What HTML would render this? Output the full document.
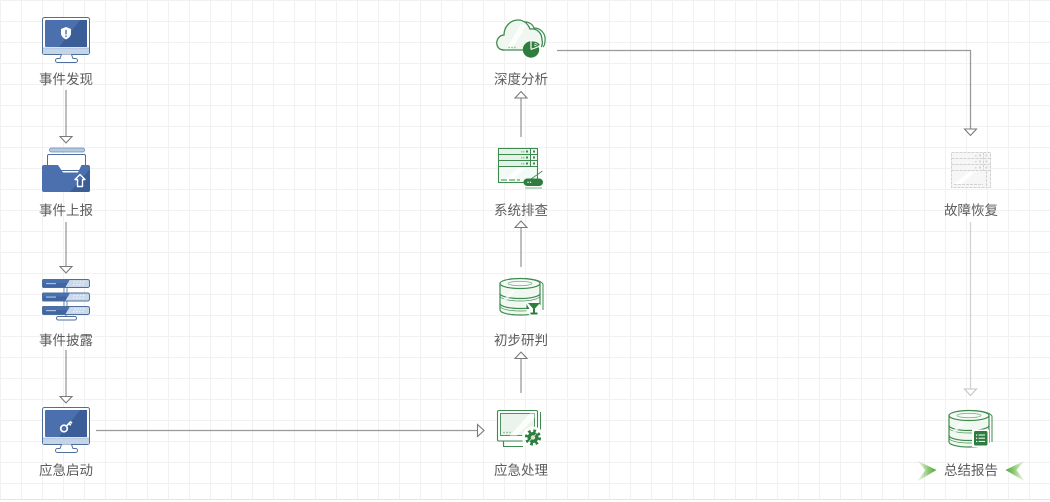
<!DOCTYPE html>
<html><head><meta charset="utf-8"><style>
html,body{margin:0;padding:0;background:#fff;}
svg{display:block;}
text{font-family:"Liberation Sans","Noto Sans CJK SC",sans-serif;font-size:13.5px;fill:#5c5c5c;text-anchor:middle;}
</style></head><body>
<svg width="1050" height="502" viewBox="0 0 1050 502" xmlns="http://www.w3.org/2000/svg">
<defs>
<pattern id="grid" width="21" height="21" patternUnits="userSpaceOnUse">
<path d="M0.5,0 V21 M0,0.5 H21" stroke="#f1f1f1" stroke-width="1" fill="none"/>
</pattern>
<clipPath id="barclip"><rect x="0" y="0" width="48" height="9" rx="2"/></clipPath>
<g id="bar">
<rect width="48" height="9" rx="2" fill="#c9d8ea"/>
<polygon points="0,0 28,0 23,9 0,9" fill="#3f65a2" clip-path="url(#barclip)"/>
<polygon points="0,0 28,0 26,4 0,4" fill="#4a71ad" clip-path="url(#barclip)"/>
<rect x="4" y="4" width="10" height="1.2" fill="#a8bedb"/>
<g fill="#eef3f9"><rect x="32" y="2.5" width="1.5" height="1.2"/><rect x="35" y="2.5" width="1.5" height="1.2"/><rect x="38" y="2.5" width="1.5" height="1.2"/><rect x="41" y="2.5" width="1.5" height="1.2"/>
<rect x="31" y="5" width="1.5" height="1.2"/><rect x="34" y="5" width="1.5" height="1.2"/><rect x="37" y="5" width="1.5" height="1.2"/><rect x="40" y="5" width="1.5" height="1.2"/></g>
<rect x="0.5" y="0.5" width="47" height="8" rx="2" fill="none" stroke="#4d6f9e" stroke-width="1"/>
</g>
<g id="monitor">
<rect x="42.5" y="17.5" width="47" height="37" rx="2" fill="#fff" stroke="#4d6f9e" stroke-width="1"/>
<rect x="43" y="48" width="46" height="6" fill="#c5d5e8"/>
<line x1="43" y1="48" x2="89" y2="48" stroke="#9fb5d2" stroke-width="0.8"/>
<rect x="45" y="20" width="42" height="27" rx="1" fill="#4b70ad"/>
<polygon points="59,47 80,20 87,20 87,47" fill="#3b5e99"/>
<path d="M61.5,54.5 L60,58.5 H57.5 a2,2 0 0 0 0,4 H75.5 a2,2 0 0 0 0,-4 H73 L71.5,54.5" fill="#fff" stroke="#4d6f9e" stroke-width="1"/>
</g>
<g id="db">
<path d="M525,278.6 C535,279 541,281 543,284 V310" fill="none" stroke="#3d8b4e" stroke-width="1"/>
<path d="M500,283.5 V310 A20,5 0 0 0 540,310 V283.5" fill="#f1f8f2" stroke="#3d8b4e" stroke-width="1.2"/>
<ellipse cx="520" cy="283.5" rx="20" ry="5" fill="#f6fbf7" stroke="#3d8b4e" stroke-width="1.2"/>
<ellipse cx="520" cy="283.5" rx="12" ry="2.2" fill="none" stroke="#7fb68a" stroke-width="0.8"/>
<path d="M500,293.5 A20,5 0 0 0 540,293.5 M500,303.5 A20,5 0 0 0 540,303.5" fill="none" stroke="#3d8b4e" stroke-width="1.2"/>
<path d="M500,296 A20,5 0 0 0 540,296 M500,306 A20,5 0 0 0 540,306" fill="none" stroke="#3d8b4e" stroke-width="0.7"/>
<polygon points="503,300 512,290 516,290 507,300" fill="#ffffff" opacity="0.7"/>
</g>
<linearGradient id="chevL" x1="0" y1="0" x2="1" y2="0">
<stop offset="0" stop-color="#8cc96a" stop-opacity="0.1"/><stop offset="0.6" stop-color="#6cb84a" stop-opacity="0.8"/><stop offset="1" stop-color="#4ea532"/>
</linearGradient>
<linearGradient id="chevR" x1="1" y1="0" x2="0" y2="0">
<stop offset="0" stop-color="#8cc96a" stop-opacity="0.1"/><stop offset="0.6" stop-color="#6cb84a" stop-opacity="0.8"/><stop offset="1" stop-color="#4ea532"/>
</linearGradient>
</defs>

<rect x="0" y="0" width="1050" height="502" fill="#fff"/>
<rect x="0" y="0" width="1050" height="499" fill="url(#grid)"/>
<line x1="0" y1="499.5" x2="1050" y2="499.5" stroke="#e3e3ec" stroke-width="1"/>

<!-- connectors -->
<g stroke="#9a9a9a" stroke-width="1.3" fill="none">
<line x1="66" y1="90" x2="66" y2="136"/>
<line x1="66" y1="222" x2="66" y2="266"/>
<line x1="66" y1="350" x2="66" y2="396"/>
<line x1="96" y1="430.5" x2="477" y2="430.5"/>
<line x1="521" y1="393" x2="521" y2="359"/>
<line x1="521" y1="267" x2="521" y2="228"/>
<line x1="521" y1="137" x2="521" y2="98"/>
<polyline points="557,50.5 970.5,50.5 970.5,129"/>
</g>
<line x1="970.5" y1="222" x2="970.5" y2="389" stroke="#d2d2d2" stroke-width="1.3"/>
<g fill="#fff" stroke="#7a7a7a" stroke-width="1.1" stroke-linejoin="miter">
<polygon points="60,136.5 72,136.5 66,143"/>
<polygon points="60,266.5 72,266.5 66,273"/>
<polygon points="60,396.5 72,396.5 66,403"/>
<polygon points="477.5,424.5 477.5,436.5 484,430.5"/>
<polygon points="515,358.5 527,358.5 521,352"/>
<polygon points="515,227.5 527,227.5 521,221"/>
<polygon points="515,98 527,98 521,91.5"/>
<polygon points="964.5,129 976.5,129 970.5,135.5"/>
</g>
<polygon points="964.5,389 976.5,389 970.5,395.5" fill="#fff" stroke="#c4c4c4" stroke-width="1.1"/>

<!-- 事件发现 monitor -->
<use href="#monitor"/>
<path d="M66,27 L71,29 V33 C71,36 69,38 66,39.5 C63,38 61,36 61,33 V29 Z" fill="#fff"/>
<rect x="65.3" y="29.8" width="1.4" height="4.6" fill="#4b70ad"/>
<circle cx="66" cy="36.2" r="0.85" fill="#4b70ad"/>

<!-- 事件上报 folder -->
<rect x="49.5" y="148" width="35" height="4" rx="2" fill="#b7c9e0" stroke="#6d8bb5" stroke-width="0.8"/>
<rect x="47.5" y="154.5" width="38" height="16" rx="1.5" fill="#fff" stroke="#4d6f9e" stroke-width="1"/>
<path d="M44,165 H58 L63,172.5 H78 L81.5,165 H88 a2,2 0 0 1 2,2 V190 a2,2 0 0 1 -2,2 H44 a2,2 0 0 1 -2,-2 V167 a2,2 0 0 1 2,-2 Z" fill="#4b70ad"/>
<path d="M70,192 L90,169 V190 a2,2 0 0 1 -2,2 Z" fill="#3b5e99"/>
<path d="M80,174.5 L85,179.5 H82.5 V186.5 H77.5 V179.5 H75 Z" fill="none" stroke="#fff" stroke-width="1.4" stroke-linejoin="round"/>

<!-- 事件披露 servers -->
<rect x="64" y="287" width="3" height="20" fill="#fff" stroke="#4d6f9e" stroke-width="0.8"/>
<line x1="66" y1="314" x2="66" y2="317" stroke="#4d6f9e" stroke-width="1"/>
<use href="#bar" transform="translate(42,279)"/>
<use href="#bar" transform="translate(42,292.5)"/>
<use href="#bar" transform="translate(42,306)"/>
<rect x="56.5" y="316.5" width="20" height="3.5" rx="1.75" fill="#fff" stroke="#4d6f9e" stroke-width="1"/>

<!-- 应急启动 monitor -->
<use href="#monitor" transform="translate(0,390)"/>
<circle cx="64" cy="428.5" r="3.3" fill="none" stroke="#fff" stroke-width="1.7"/>
<path d="M66.3,426.2 L71,421.5 M69,423.5 L70.8,425.3 M70.5,421.8 L72,423.3" stroke="#fff" stroke-width="1.6" fill="none"/>

<!-- 深度分析 cloud -->
<path d="M523,22 C529,21 533,25 534,28 C541,28 546,34 545,41 C545,44 544,46 543,47" fill="none" stroke="#3d8b4e" stroke-width="1.2"/>
<path d="M504,50 C498,50 496,45 497,41 C498,37 501,35 504,35 C504,26 511,20 518,20 C524,20 528,24 530,29 C537,28 542,33 542,40 C543,43 542,46 541,47 L530,50 Z" fill="#eff7f0" stroke="none"/>
<path d="M504,50 C498,50 496,45 497,41 C498,37 501,35 504,35 C504,26 511,20 518,20 C524,20 528,24 530,29 C537,28 542,33 542,40 C543,43 542,46 541,47" fill="none" stroke="#3d8b4e" stroke-width="1.3"/>
<polygon points="506,49 521,24 526,26 512,49" fill="#fff" opacity="0.8"/>
<line x1="503" y1="50" x2="523" y2="50" stroke="#3d8b4e" stroke-width="1.3"/>
<g fill="#8dbf96"><circle cx="509" cy="47.5" r="0.9"/><circle cx="512" cy="47.5" r="0.9"/><circle cx="515" cy="47.5" r="0.9"/></g>
<circle cx="532" cy="49" r="9.2" fill="#fff"/>
<circle cx="531" cy="49.5" r="8.2" fill="#2e7d3f"/>
<path d="M531,49.5 V41 M531,49.5 L539,46.5" stroke="#fff" stroke-width="1.2"/>
<path d="M533,41.5 A8,8 0 0 1 540,45 L533,47.5 Z" fill="#2e7d3f"/>
<path d="M534.5,43 L537.5,44.5 M534,45 L536.5,46" stroke="#fff" stroke-width="0.7"/>

<!-- 系统排查 server -->
<rect x="498.5" y="148.5" width="39" height="34" fill="#f3f9f4" stroke="#3d8b4e" stroke-width="1.1"/>
<rect x="499" y="149" width="31" height="17" fill="#e6f2e8"/>
<polygon points="502,182 518,168 526,168 510,182" fill="#fff" opacity="0.9"/>
<g stroke="#3d8b4e" stroke-width="1" fill="none">
<line x1="498.5" y1="154.5" x2="537.5" y2="154.5"/>
<line x1="498.5" y1="160.5" x2="537.5" y2="160.5"/>
<line x1="498.5" y1="166.5" x2="537.5" y2="166.5"/>
<line x1="530.5" y1="148.5" x2="530.5" y2="166.5"/>
</g>
<g fill="#3d8b4e">
<rect x="526" y="150.5" width="2" height="2"/><rect x="533" y="150.5" width="2" height="2"/>
<rect x="526" y="156.5" width="2" height="2"/><rect x="533" y="156.5" width="2" height="2"/>
<rect x="526" y="162.5" width="2" height="2"/><rect x="533" y="162.5" width="2" height="2"/>
</g>
<g fill="#9cc8a4">
<rect x="521" y="151" width="1.5" height="1.5"/><rect x="523" y="151" width="1.5" height="1.5"/>
<rect x="521" y="157" width="1.5" height="1.5"/><rect x="523" y="157" width="1.5" height="1.5"/>
<rect x="521" y="163" width="1.5" height="1.5"/><rect x="523" y="163" width="1.5" height="1.5"/>
</g>
<line x1="501" y1="180" x2="520" y2="180" stroke="#3d8b4e" stroke-width="1.1" stroke-dasharray="6 2"/>
<line x1="531" y1="179" x2="542.5" y2="171" stroke="#3d8b4e" stroke-width="0.8"/>
<rect x="523.5" y="178.5" width="19.5" height="7.5" rx="3.7" fill="#2e7d3f"/>
<line x1="525" y1="188" x2="542" y2="188" stroke="#7fb68a" stroke-width="1"/>
<g fill="#fff"><circle cx="528" cy="182.3" r="0.7"/><circle cx="530.5" cy="182.3" r="0.7"/></g>

<!-- 初步研判 db -->
<use href="#db"/>
<circle cx="534" cy="309" r="7.5" fill="#fff"/>
<path d="M528,303 H540 L535,308.5 V312.5 H537.5 V314.5 H530.5 V312.5 H533 V308.5 Z" fill="#2e7d3f"/>
<path d="M526.5,304 L529.5,309 L526.5,309 Z" fill="#2e7d3f"/>

<!-- 应急处理 monitor green -->
<line x1="540.5" y1="412" x2="540.5" y2="441" stroke="#3d8b4e" stroke-width="1"/>
<rect x="497.5" y="410.5" width="40" height="30.5" rx="1.5" fill="#fff" stroke="#3d8b4e" stroke-width="1.1"/>
<rect x="500.5" y="413.5" width="34" height="22" fill="#eaf4ec" stroke="#3d8b4e" stroke-width="0.9"/>
<polygon points="510,435.5 530,413.5 534.5,413.5 534.5,418 517,435.5" fill="#fff" opacity="0.85"/>
<g fill="#8dbf96"><circle cx="504" cy="432.5" r="0.9"/><circle cx="507" cy="432.5" r="0.9"/><circle cx="510" cy="432.5" r="0.9"/></g>
<path d="M503.5,441 V446.5 H523" fill="none" stroke="#3d8b4e" stroke-width="1.1"/>
<circle cx="533" cy="437.5" r="11" fill="#fff"/>
<circle cx="533" cy="437.5" r="5.5" fill="#2e7d3f"/>
<circle cx="533" cy="437.5" r="6.6" fill="none" stroke="#2e7d3f" stroke-width="3" stroke-dasharray="2.6 2.6"/>
<circle cx="533" cy="437.5" r="2.2" fill="#cfe6d3"/>
<line x1="529" y1="441.5" x2="536" y2="434" stroke="#cfe6d3" stroke-width="0.8"/>

<!-- 故障恢复 faded server -->
<g stroke="#d2d2d2" stroke-width="1" fill="none" stroke-dasharray="3 1">
<rect x="951.5" y="152.5" width="39" height="35" fill="#f6f6f6"/>
<line x1="951.5" y1="158.5" x2="990.5" y2="158.5"/>
<line x1="951.5" y1="164.5" x2="990.5" y2="164.5"/>
<line x1="951.5" y1="170.5" x2="990.5" y2="170.5"/>
<line x1="983.5" y1="152.5" x2="983.5" y2="170.5"/>
<line x1="954" y1="184.5" x2="983" y2="184.5"/>
<line x1="986.5" y1="171" x2="986.5" y2="187"/>
</g>
<polygon points="954,184 969,172 975,172 961,184" fill="#fff" opacity="0.9"/>
<g fill="#d6d6d6">
<rect x="979" y="154.5" width="2" height="2"/><rect x="985.5" y="154.5" width="2" height="2"/>
<rect x="979" y="160.5" width="2" height="2"/><rect x="985.5" y="160.5" width="2" height="2"/>
<rect x="979" y="166.5" width="2" height="2"/><rect x="985.5" y="166.5" width="2" height="2"/>
<rect x="975" y="155" width="1.5" height="1.5"/><rect x="975" y="161" width="1.5" height="1.5"/><rect x="975" y="167" width="1.5" height="1.5"/>
</g>

<!-- 总结报告 db -->
<use href="#db" transform="translate(449,132)"/>
<rect x="972" y="429.5" width="17" height="17.5" fill="#fff"/>
<rect x="974" y="431" width="13.5" height="14.5" rx="1.5" fill="#2e7d3f"/>
<g stroke="#fff" stroke-width="1"><line x1="978.5" y1="435" x2="985" y2="435"/><line x1="978.5" y1="438.2" x2="985" y2="438.2"/><line x1="978.5" y1="441.4" x2="985" y2="441.4"/></g>
<g fill="#fff"><rect x="976" y="434.5" width="1.2" height="1.2"/><rect x="976" y="437.7" width="1.2" height="1.2"/><rect x="976" y="440.9" width="1.2" height="1.2"/></g>

<!-- chevrons -->
<polygon points="917,460.5 936.5,470 917,481.5 925.5,470" fill="url(#chevL)"/>
<polygon points="1025,460.5 1005.5,470 1025,481.5 1016.5,470" fill="url(#chevR)"/>

<!-- labels -->
<text x="66" y="84">事件发现</text>
<text x="66" y="215">事件上报</text>
<text x="66" y="345">事件披露</text>
<text x="66" y="475">应急启动</text>
<text x="521" y="84">深度分析</text>
<text x="521" y="215">系统排查</text>
<text x="521" y="345">初步研判</text>
<text x="521" y="475">应急处理</text>
<text x="971" y="215">故障恢复</text>
<text x="971" y="475">总结报告</text>
</svg>
</body></html>
